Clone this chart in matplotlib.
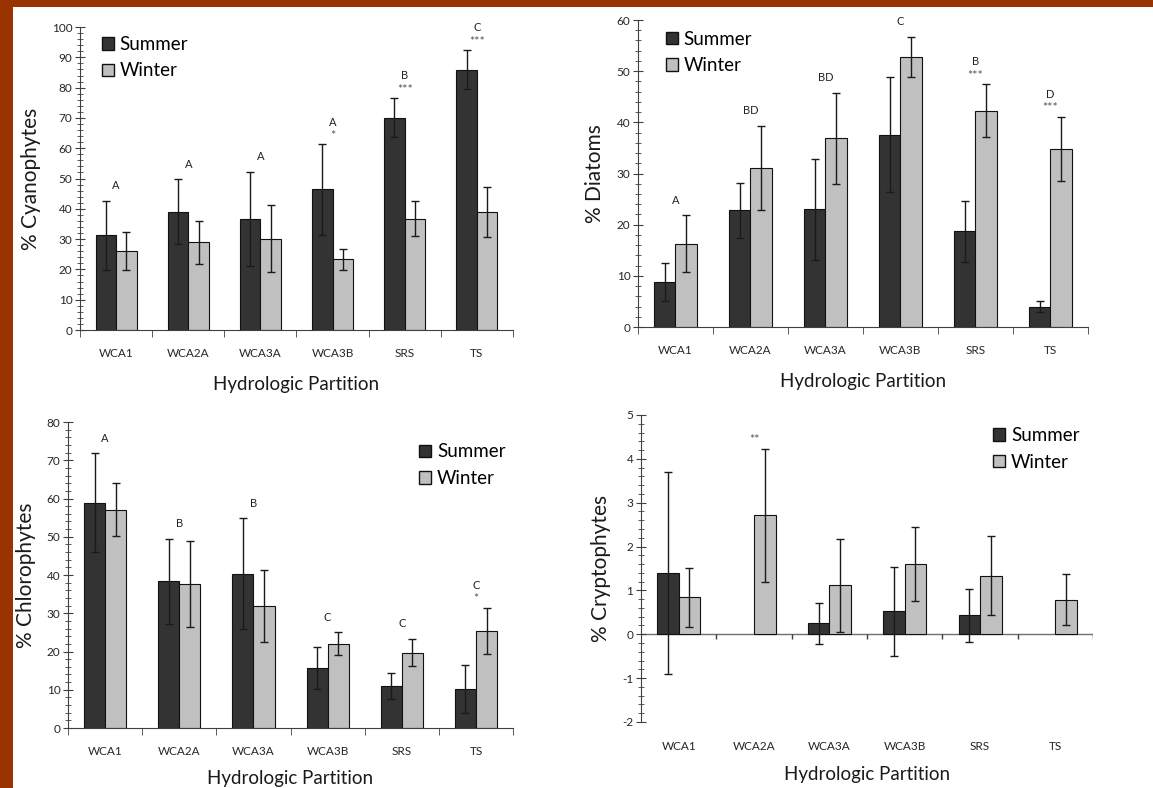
import matplotlib.pyplot as plt
import numpy as np
from matplotlib.patches import Patch, Rectangle
from matplotlib.ticker import MultipleLocator

plt.rcParams['font.family'] = ['Lato', 'DejaVu Sans']
plt.rcParams['axes.unicode_minus'] = False

partitions = ['WCA1', 'WCA2A', 'WCA3A', 'WCA3B', 'SRS', 'TS']

# % Cyanophytes, mean and standard error
cyano_summer = [31.2, 39.0, 36.7, 46.4, 70.1, 85.9]
cyano_summer_se = [11.3, 10.7, 15.5, 14.9, 6.5, 6.5]
cyano_winter = [26.0, 28.9, 30.2, 23.4, 36.7, 39.0]
cyano_winter_se = [6.2, 7.1, 11.0, 3.5, 5.8, 8.3]
cyano_letters = ['A', 'A', 'A', 'A', 'B', 'C']
cyano_stars = ['', '', '', '*', '***', '***']

# % Diatoms
diatom_summer = [8.8, 22.8, 23.0, 37.6, 18.7, 4.0]
diatom_summer_se = [3.8, 5.4, 9.9, 11.3, 5.9, 1.1]
diatom_winter = [16.3, 31.1, 36.9, 52.8, 42.3, 34.8]
diatom_winter_se = [5.5, 8.2, 8.9, 3.9, 5.2, 6.3]
diatom_letters = ['A', 'BD', 'BD', 'C', 'B', 'D']
diatom_stars = ['', '', '', '', '***', '***']

# % Chlorophytes
chloro_summer = [58.9, 38.4, 40.4, 15.7, 11.0, 10.2]
chloro_summer_se = [12.9, 11.1, 14.4, 5.6, 3.5, 6.2]
chloro_winter = [57.1, 37.7, 31.9, 22.0, 19.7, 25.4]
chloro_winter_se = [6.9, 11.2, 9.4, 3.0, 3.6, 6.1]
chloro_letters = ['A', 'B', 'B', 'C', 'C', 'C']
chloro_stars = ['', '', '', '', '', '*']

# % Cryptophytes (no summer value at WCA2A and TS)
crypto_summer = [1.39, np.nan, 0.25, 0.52, 0.43, np.nan]
crypto_summer_se = [2.30, np.nan, 0.47, 1.01, 0.61, np.nan]
crypto_winter = [0.84, 2.71, 1.12, 1.60, 1.33, 0.79]
crypto_winter_se = [0.68, 1.52, 1.06, 0.85, 0.90, 0.59]
crypto_letters = ['', '', '', '', '', '']
crypto_stars = ['', '**', '', '', '', '']

SUMMER = '#333333'
WINTER = '#c0c0c0'
AXIS = '#404040'


def draw_panel(ax, summer, summer_se, winter, winter_se, letters, stars,
               ylabel, ylim, major, minor, legend_at, zero_axis=False, xlabelpad=12):
    summer = np.array(summer, dtype=float)
    winter = np.array(winter, dtype=float)
    summer_se = np.array(summer_se, dtype=float)
    winter_se = np.array(winter_se, dtype=float)
    x = np.arange(len(partitions))
    w = 0.285

    ax.bar(x - w / 2, summer, w, color=SUMMER, edgecolor='#111111', lw=0.8, zorder=2)
    ax.bar(x + w / 2, winter, w, color=WINTER, edgecolor='#111111', lw=0.8, zorder=2)
    ax.errorbar(x - w / 2, summer, yerr=summer_se, fmt='none', ecolor='#1a1a1a',
                elinewidth=1, capsize=3, capthick=1, zorder=3)
    ax.errorbar(x + w / 2, winter, yerr=winter_se, fmt='none', ecolor='#1a1a1a',
                elinewidth=1, capsize=3, capthick=1, zorder=3)

    # significance letters / stars above the tallest error bar of each pair
    tops = np.fmax(summer + summer_se, winter + winter_se)
    for xi, top, let, st in zip(x, tops, letters, stars):
        if st:
            ax.annotate(st, (xi, top), xytext=(0, 6), textcoords='offset points',
                        ha='center', va='center', fontsize=9, color='#555555',
                        annotation_clip=False)
            off = 16
        else:
            off = 11
        if let:
            ax.annotate(let, (xi, top), xytext=(0, off), textcoords='offset points',
                        ha='center', va='center', fontsize=8, color='#222222',
                        annotation_clip=False)

    ax.set_xlim(-0.5, len(partitions) - 0.5)
    ax.set_ylim(*ylim)
    ax.yaxis.set_major_locator(MultipleLocator(major))
    ax.yaxis.set_minor_locator(MultipleLocator(minor))
    ax.spines[['top', 'right']].set_visible(False)
    ax.spines['left'].set_color(AXIS)
    ax.tick_params(axis='y', which='major', direction='inout', length=7,
                   color=AXIS, labelsize=8.5, labelcolor='#262626', pad=2)
    ax.tick_params(axis='y', which='minor', direction='inout', length=4, color=AXIS)

    ax.set_xticks(x, partitions)
    bounds = np.arange(-0.5, len(partitions))
    if zero_axis:
        ax.spines['bottom'].set_visible(False)
        ax.axhline(0, color='#707070', lw=1, zorder=1)
        tick_len = (ylim[1] - ylim[0]) * 0.016
        ax.vlines(bounds[1:], -tick_len, 0, color=AXIS, lw=1)
        ax.tick_params(axis='x', which='major', length=0, labelsize=8.5,
                       labelcolor='#262626', pad=14)
    else:
        ax.spines['bottom'].set_color(AXIS)
        ax.set_xticks(bounds, minor=True)
        ax.tick_params(axis='x', which='minor', direction='out', length=5, color=AXIS)
        ax.tick_params(axis='x', which='major', length=0, labelsize=8.5,
                       labelcolor='#262626', pad=13)

    ax.set_ylabel(ylabel, fontsize=15, color='#1a1a1a', labelpad=8)
    ax.set_xlabel('Hydrologic Partition', fontsize=13.5, color='#1a1a1a',
                  labelpad=xlabelpad)

    handles = [Patch(facecolor=SUMMER, edgecolor='#111111', label='Summer'),
               Patch(facecolor=WINTER, edgecolor='#111111', label='Winter')]
    ax.legend(handles=handles, loc='upper left', bbox_to_anchor=legend_at,
              frameon=False, fontsize=13.5, handlelength=0.65, handleheight=0.65,
              handletextpad=0.3, labelspacing=0.5, borderaxespad=0, borderpad=0)


fig = plt.figure(figsize=(11.53, 7.88), dpi=100, facecolor='#993300')
fig.add_artist(Rectangle((13 / 1153, 0), 1, 1 - 7 / 788, transform=fig.transFigure,
                         facecolor='white', edgecolor='none', zorder=-1))

ax1 = fig.add_axes([0.0694, 0.5812, 0.3755, 0.3845])
ax2 = fig.add_axes([0.5533, 0.5850, 0.3903, 0.3896])
ax3 = fig.add_axes([0.0590, 0.0761, 0.3860, 0.3883])
ax4 = fig.add_axes([0.5560, 0.0838, 0.3920, 0.3896])

draw_panel(ax1, cyano_summer, cyano_summer_se, cyano_winter, cyano_winter_se,
           cyano_letters, cyano_stars, '% Cyanophytes', (0, 100), 10, 2, (0.05, 0.97))
draw_panel(ax2, diatom_summer, diatom_summer_se, diatom_winter, diatom_winter_se,
           diatom_letters, diatom_stars, '% Diatoms', (0, 60), 10, 2, (0.062, 0.965))
draw_panel(ax3, chloro_summer, chloro_summer_se, chloro_winter, chloro_winter_se,
           chloro_letters, chloro_stars, '% Chlorophytes', (0, 80), 10, 2, (0.789, 0.93),
           xlabelpad=9)
draw_panel(ax4, crypto_summer, crypto_summer_se, crypto_winter, crypto_winter_se,
           crypto_letters, crypto_stars, '% Cryptophytes', (-2, 5), 1, 0.2, (0.779, 0.96),
           zero_axis=True, xlabelpad=10)

fig.savefig('out.png', dpi=100, facecolor=fig.get_facecolor())
